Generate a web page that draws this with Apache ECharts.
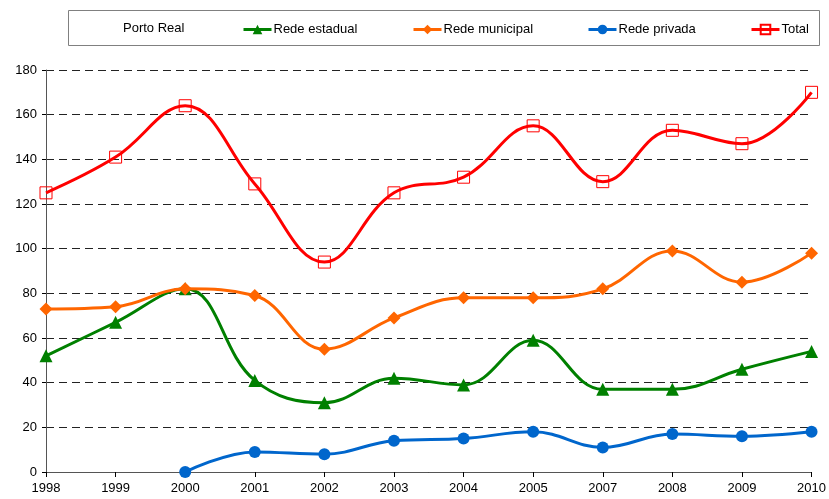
<!DOCTYPE html>
<html>
<head>
<meta charset="utf-8">
<script src="https://cdn.jsdelivr.net/npm/echarts@6/dist/echarts.min.js"></script>
<style>
    html, body { margin: 0; padding: 0; background: #fff; }
    #chart { width: 829px; height: 499px; }
</style>
</head>
<body>
<div id="chart"></div>
<script>
const years = ['1998', '1999', '2000', '2001', '2002', '2003', '2004', '2005', '2007', '2008', '2009', '2010']

const estadual = [52, 67, 82, 41, 31, 42, 39, 59, 37, 37, 46, 54]
const municipal = [73, 74, 82, 79, 55, 69, 78, 78, 82, 99, 85, 98]
const privada = ['-', '-', 0, 9, 8, 14, 15, 18, 11, 17, 16, 18]
const total = [125, 141, 164, 129, 94, 125, 132, 155, 130, 153, 147, 170]

const font = 'Liberation Sans, Arial, sans-serif'

const makeSeries = (name, data, color, symbol, extra) => {
    return Object.assign({
        name: name,
        type: 'line',
        data: data,
        smooth: 0.4,
        symbol: symbol,
        symbolSize: 11,
        lineStyle: { color: color, width: 3 },
        itemStyle: { color: color },
        emphasis: { disabled: true },
        z: 3
    }, extra || {})
}

const legendItem = (name, left) => ({
    data: [name],
    left: left,
    top: 18,
    itemWidth: 28,
    itemHeight: 12,
    itemGap: 2,
    lineStyle: { width: 3 },
    textStyle: { fontFamily: font, fontSize: 13, color: '#000', padding: [0, 0, 0, -3] },
    selectedMode: false
})

let chart = echarts.init(document.getElementById('chart'))
chart.setOption({
    animation: false,
    grid: { left: 46, right: 17, top: 70, bottom: 27 },
    graphic: [
        {
            type: 'rect',
            shape: { x: 68.5, y: 10.5, width: 751, height: 35 },
            style: { fill: '#fff', stroke: '#808080', lineWidth: 1 },
            z: 0
        },
        {
            type: 'text',
            left: 123,
            top: 22,
            style: { text: 'Porto Real', font: '13px ' + font, fill: '#000' },
            z: 1
        }
    ],
    legend: [
        legendItem('Rede estadual', 237),
        legendItem('Rede municipal', 407),
        legendItem('Rede privada', 582),
        legendItem('Total', 745)
    ],
    xAxis: {
        type: 'category',
        data: years,
        boundaryGap: false,
        axisLine: { lineStyle: { color: '#555', width: 1 } },
        axisTick: { show: true, length: 5, alignWithLabel: true, lineStyle: { color: '#000' } },
        axisLabel: { color: '#000', fontFamily: font, fontSize: 13, margin: 10 }
    },
    yAxis: {
        type: 'value',
        min: 0,
        max: 180,
        interval: 20,
        axisLine: { show: true, lineStyle: { color: '#555', width: 1 } },
        axisTick: { show: true, length: 4, lineStyle: { color: '#000' } },
        axisLabel: { color: '#000', fontFamily: font, fontSize: 13, margin: 9 },
        splitLine: { lineStyle: { color: '#222', type: [8, 5], width: 1 } }
    },
    series: [
        makeSeries('Rede estadual', estadual, '#008000', 'triangle', { symbolSize: 13 }),
        makeSeries('Rede municipal', municipal, '#FF6600', 'diamond', { symbolSize: 13 }),
        makeSeries('Rede privada', privada, '#0066CC', 'circle', { symbolSize: 12 }),
        makeSeries('Total', total, '#FF0000', 'rect', {
            symbolSize: 12,
            itemStyle: { color: 'rgba(255,255,255,0)', borderColor: '#FF0000', borderWidth: 1 }
        })
    ]
})
</script>
</body>
</html>
